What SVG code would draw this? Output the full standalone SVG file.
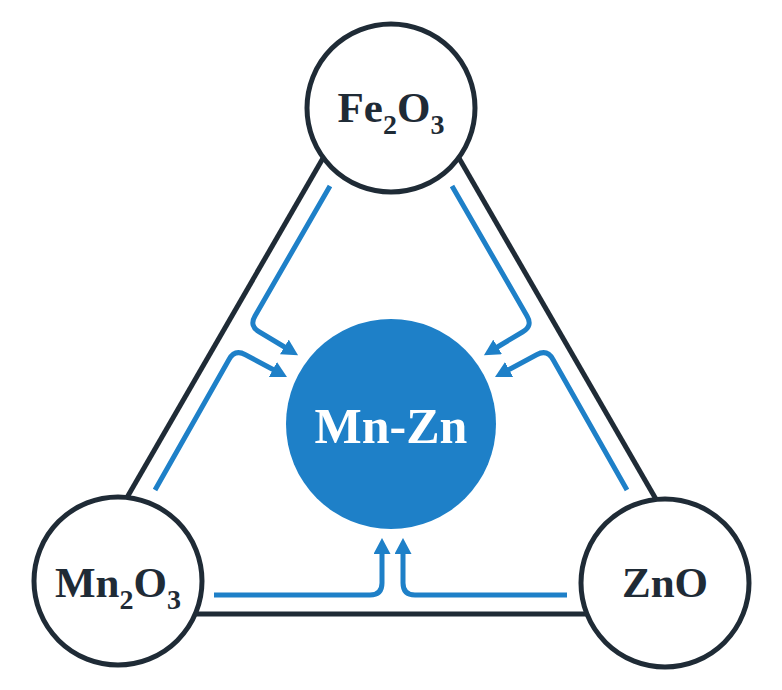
<svg xmlns="http://www.w3.org/2000/svg" width="782" height="690" viewBox="0 0 782 690">
  <style>
    .edge { stroke: #1f2b36; stroke-width: 5; fill: none; stroke-linecap: butt; }
    .node { fill: #ffffff; stroke: #1f2b36; stroke-width: 5; }
    .core { fill: #1e80c8; }
    .flow { stroke: #1e80c8; stroke-width: 5; fill: none; marker-end: url(#arr); }
    .lbl { font-family: "Liberation Serif", "Times New Roman", serif; font-weight: bold; font-size: 43px; fill: #1f2b36; text-anchor: middle; }
    .sub { font-size: 28px; }
    .core-lbl { font-family: "Liberation Serif", "Times New Roman", serif; font-weight: bold; font-size: 50px; fill: #ffffff; text-anchor: middle; }
  </style>
  <defs>
    <marker id="arr" markerUnits="userSpaceOnUse" markerWidth="17" markerHeight="17" viewBox="0 0 17 17" refX="6" refY="8.5" orient="auto">
      <path d="M0,0 L16,8.5 L0,17 Z" fill="#1e80c8"/>
    </marker>
  </defs>
  <rect width="782" height="690" fill="#ffffff"/>
  <g id="connectors">
    <line class="edge" x1="330" y1="146" x2="114" y2="520"/>
    <line class="edge" x1="452" y1="146" x2="668" y2="520"/>
    <line class="edge" x1="150" y1="614" x2="632" y2="614"/>
    <path class="flow" d="M330,186 L255,316 Q249,326 259.5,332 L289.5,350"/>
    <path class="flow" d="M452,186 L527,316 Q533,326 522.5,332 L492.5,350"/>
    <path class="flow" d="M155,490 L229,359.5 Q234.8,349 245.4,354.7 L278.2,372.3"/>
    <path class="flow" d="M627,490 L553,359.5 Q547.2,349 536.6,354.7 L503.8,372.3"/>
    <path class="flow" d="M214,595 L370,595 Q382,595 382,583 L382,548"/>
    <path class="flow" d="M567,595 L415,595 Q403,595 403,583 L403,548"/>
  </g>
  <g id="node-fe2o3">
    <circle class="node" cx="391" cy="108" r="84"/>
    <text class="lbl" x="391" y="122">Fe<tspan class="sub" dy="12">2</tspan><tspan dy="-12">O</tspan><tspan class="sub" dy="12">3</tspan></text>
  </g>
  <g id="node-mn2o3">
    <circle class="node" cx="118" cy="581" r="84"/>
    <text class="lbl" x="118" y="597">Mn<tspan class="sub" dy="12">2</tspan><tspan dy="-12">O</tspan><tspan class="sub" dy="12">3</tspan></text>
  </g>
  <g id="node-zno">
    <circle class="node" cx="665" cy="583" r="84"/>
    <text class="lbl" x="665" y="597">ZnO</text>
  </g>
  <g id="node-mnzn">
    <circle class="core" cx="391" cy="424" r="105"/>
    <text class="core-lbl" x="391" y="443">Mn-Zn</text>
  </g>
</svg>
